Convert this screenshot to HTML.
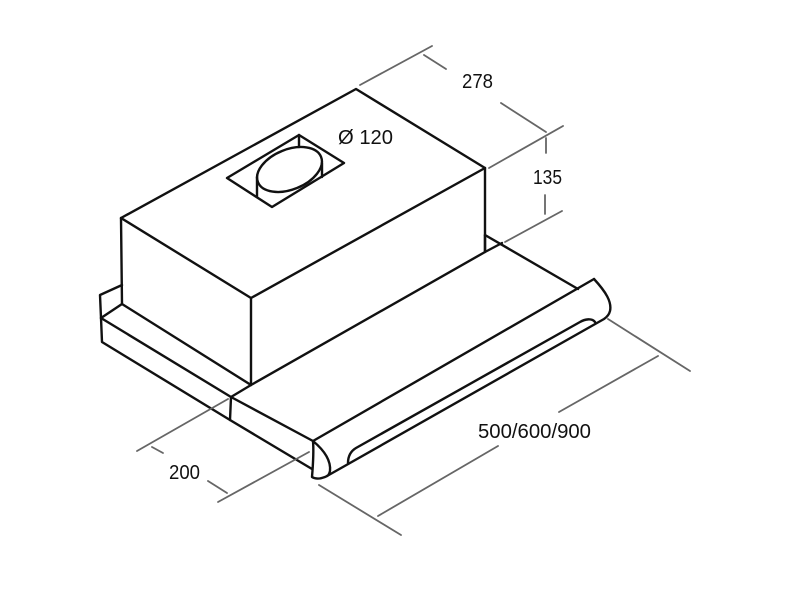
<!DOCTYPE html>
<html>
<head>
<meta charset="utf-8">
<style>
html,body{margin:0;padding:0;background:#fff;width:800px;height:600px;overflow:hidden}
svg{display:block}
text{font-family:"Liberation Sans",sans-serif;font-size:20px;fill:#111}
</style>
</head>
<body>
<svg width="800" height="600" viewBox="0 0 800 600" xmlns="http://www.w3.org/2000/svg">
<rect width="800" height="600" fill="#fff"/>
<g fill="none" stroke="#111" stroke-width="2.400" stroke-linejoin="round" stroke-linecap="round">
  <!-- box -->
  <path d="M121 218L356 89L485 168L251 298Z"/>
  <path d="M121 218L122 304L251 385L251 298"/>
  <path d="M251 385L485 252L485 168"/>
  <!-- duct cutout -->
  <path d="M227 178L299 135L344 163L272 207Z"/>
  <ellipse cx="289.500" cy="169.500" rx="34" ry="20" transform="rotate(-22 289.500 169.500)" fill="#fff"/>
  <path d="M299 135V147M257 177V197M322 163V177"/>
  <!-- rear plate -->
  <path d="M122 285L100 295L101 318L122 304"/>
  <path d="M101 318L102 342L230 420L312 469"/>
  <path d="M101 318L231 397L313 441"/>
  <path d="M231 397L251 385M231 397L230 420"/>
  <!-- slide -->
  <path d="M485 235L578 289"/>
  <path d="M485 252L502 243M485 235V252"/>
  <path d="M313 441L594 279"/>
  <path d="M594 279C606 292 612 302 610 311C609 315 607 317 604 319L327 476"/>
  <!-- left cap -->
  <path d="M313 441C325 451 331 461 330 471C329 475 328 476 325 477C320 479 315 479 312 477C313 465 314 453 313 441Z"/>
  <!-- groove -->
  <path d="M348 463C348 456 351 451 356 448L580 322C585 319 592 318 595 322"/>
</g>
<g fill="none" stroke="#666" stroke-width="1.800" stroke-linecap="round">
  <path d="M360 85L432 46M424 55L446 69M501 103L546 132"/>
  <path d="M489 168L563 126M546 138V153M545 195V214M505 242L562 211"/>
  <path d="M608 319L690 371M658 356L559 412M498 446L378 516"/>
  <path d="M319 485L401 535"/>
  <path d="M137 451L228 399M152 447L163 453M208 481L227 493M218 502L309 452"/>
</g>
<text x="338" y="144" textLength="55" lengthAdjust="spacingAndGlyphs">Ø 120</text>
<text x="462" y="88" textLength="31" lengthAdjust="spacingAndGlyphs">278</text>
<text x="533" y="184" textLength="29" lengthAdjust="spacingAndGlyphs">135</text>
<text x="169" y="479" textLength="31" lengthAdjust="spacingAndGlyphs">200</text>
<text x="478" y="438" textLength="113" lengthAdjust="spacingAndGlyphs">500/600/900</text>
</svg>
</body>
</html>
